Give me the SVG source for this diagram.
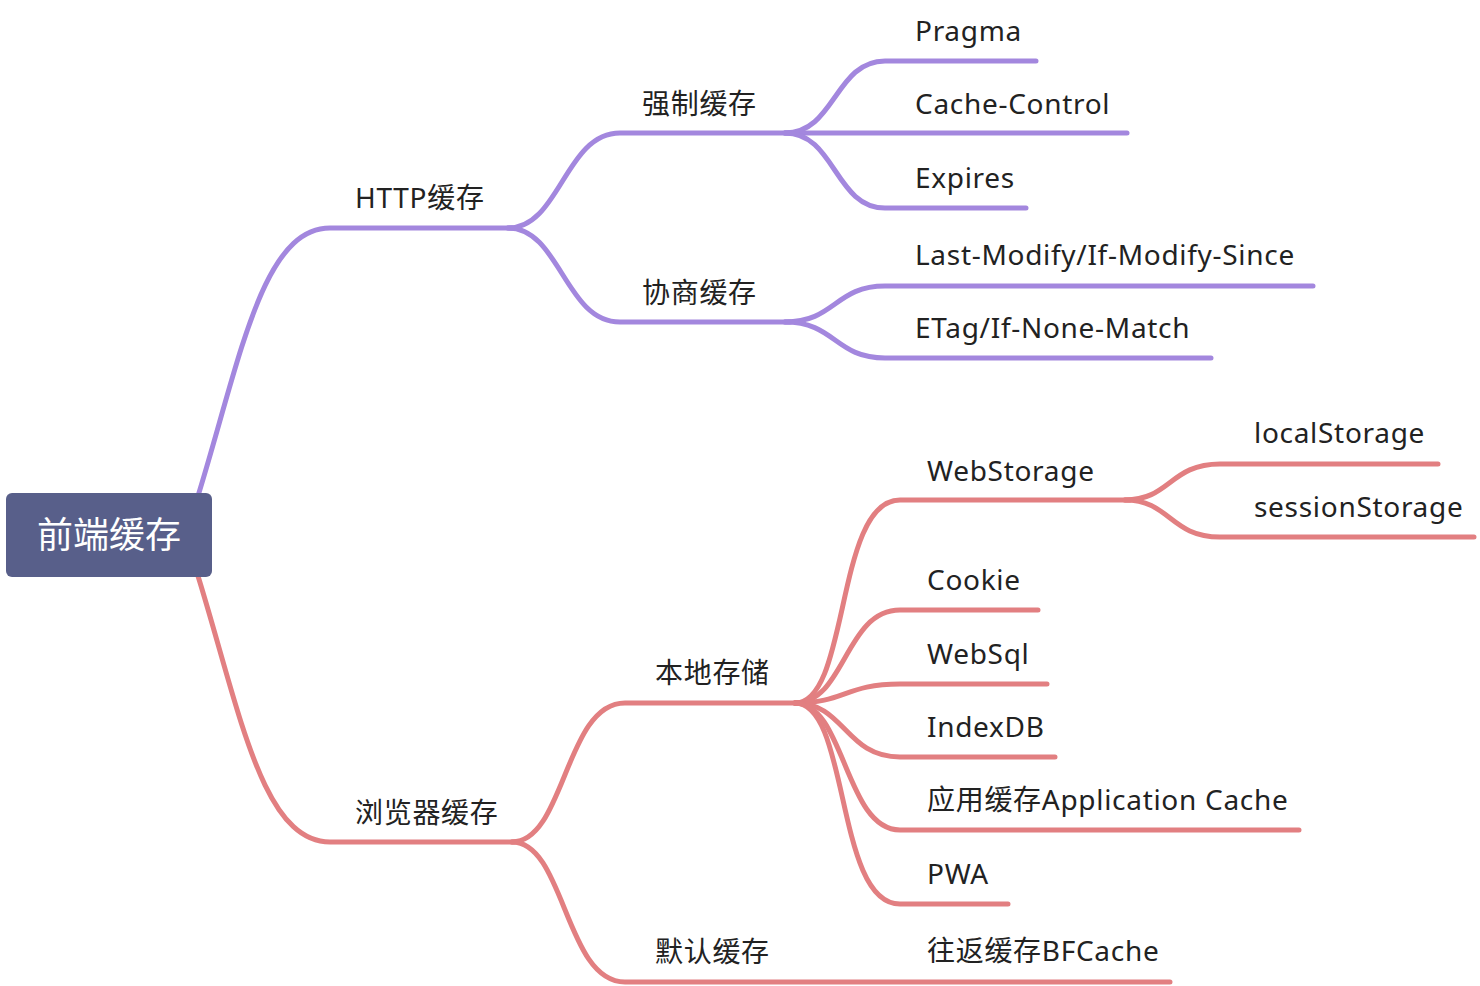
<svg xmlns="http://www.w3.org/2000/svg" width="1480" height="986" viewBox="0 0 1480 986">
<style>
.p{fill:none;stroke:#A387DE;stroke-width:5;stroke-linecap:round}
.r{fill:none;stroke:#E27F81;stroke-width:5;stroke-linecap:round}
.t{font-family:"Noto Sans","Noto Sans CJK SC",sans-serif;font-size:28px;letter-spacing:0.7px;fill:#222}
.root{font-family:"Noto Sans CJK SC","Noto Sans",sans-serif;font-size:36px;fill:#fff}
</style>
<rect width="1480" height="986" fill="#fff"/>
<g id="connectors">
<path class="p" d="M198,496 C240,360 262,228 330,228 L512,228"/>
<path class="p" d="M508,228 C560,228 565,133 620,133 L790,133"/>
<path class="p" d="M508,228 C560,228 565,322 620,322 L790,322"/>
<path class="p" d="M785,133 C835,133 835,61 885,61 L1036,61"/>
<path class="p" d="M785,133 L1127,133"/>
<path class="p" d="M785,133 C835,133 835,208 885,208 L1026,208"/>
<path class="p" d="M785,322 C835,322 835,286 885,286 L1313,286"/>
<path class="p" d="M785,322 C835,322 835,358 885,358 L1211,358"/>
<path class="r" d="M198,576 C240,712 262,842 330,842 L520,842"/>
<path class="r" d="M512,842 C565,842 565,703 625,703 L800,703"/>
<path class="r" d="M512,842 C565,842 565,982 625,982 L1170,982"/>
<path class="r" d="M795,703 C850,703 835,500 900,500 L1130,500"/>
<path class="r" d="M795,703 C845,703 845,610 900,610 L1038,610"/>
<path class="r" d="M795,703 C845,703 845,684 900,684 L1047,684"/>
<path class="r" d="M795,703 C845,703 845,757 900,757 L1055,757"/>
<path class="r" d="M795,703 C845,703 845,830 900,830 L1299,830"/>
<path class="r" d="M795,703 C850,703 835,904 900,904 L1008,904"/>
<path class="r" d="M1125,500 C1170,500 1170,464 1220,464 L1438,464"/>
<path class="r" d="M1125,500 C1170,500 1170,537 1220,537 L1474,537"/>
</g>
<g id="root"><rect x="6" y="493" width="206" height="84" rx="6" fill="#585F8A"/><text class="root" x="109" y="548" text-anchor="middle">前端缓存</text></g>
<g id="http"><text class="t" x="355" y="208">HTTP缓存</text></g>
<g id="qiangzhi"><text class="t" x="642" y="114">强制缓存</text></g>
<g id="xieshang"><text class="t" x="642" y="303">协商缓存</text></g>
<g id="pragma"><text class="t" x="915" y="41">Pragma</text></g>
<g id="cachecontrol"><text class="t" x="915" y="114">Cache-Control</text></g>
<g id="expires"><text class="t" x="915" y="188">Expires</text></g>
<g id="lastmodify"><text class="t" x="915" y="265">Last-Modify/If-Modify-Since</text></g>
<g id="etag"><text class="t" x="915" y="338">ETag/If-None-Match</text></g>
<g id="browser"><text class="t" x="355" y="823">浏览器缓存</text></g>
<g id="local"><text class="t" x="655" y="683">本地存储</text></g>
<g id="default"><text class="t" x="655" y="962">默认缓存</text></g>
<g id="webstorage"><text class="t" x="927" y="481">WebStorage</text></g>
<g id="localstorage"><text class="t" x="1254" y="443">localStorage</text></g>
<g id="sessionstorage"><text class="t" x="1254" y="517">sessionStorage</text></g>
<g id="cookie"><text class="t" x="927" y="590">Cookie</text></g>
<g id="websql"><text class="t" x="927" y="664">WebSql</text></g>
<g id="indexdb"><text class="t" x="927" y="737">IndexDB</text></g>
<g id="appcache"><text class="t" x="927" y="810">应用缓存Application Cache</text></g>
<g id="pwa"><text class="t" x="927" y="884">PWA</text></g>
<g id="bfcache"><text class="t" x="927" y="961">往返缓存BFCache</text></g>
</svg>
